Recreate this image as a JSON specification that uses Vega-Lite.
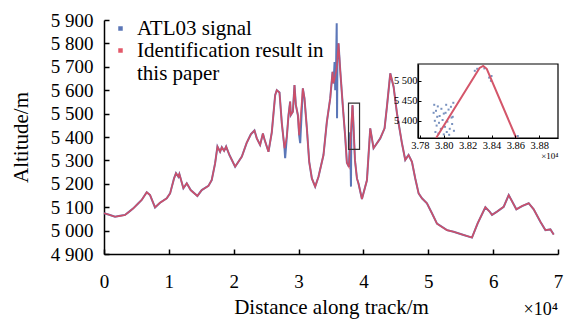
{
  "$schema": "https://vega.github.io/schema/vega-lite/v6.json",
  "width": 454,
  "height": 234,
  "autosize": "none",
  "padding": {"left": 104, "top": 20, "right": 9, "bottom": 66},
  "background": "white",
  "config": {
    "view": {"stroke": null},
    "axis": {"grid": false, "labelFont": "Liberation Serif", "titleFont": "Liberation Serif", "titleFontWeight": "normal", "labelColor": "black", "titleColor": "black", "domainColor": "black", "tickColor": "black", "labelOverlap": false},
    "text": {"font": "Liberation Serif"}
  },
  "datasets": {
    "result": [
      {"d": 0, "alt": 5074}, {"d": 800, "alt": 5068}, {"d": 1700, "alt": 5059}, {"d": 2500, "alt": 5063},
      {"d": 3240, "alt": 5067}, {"d": 3750, "alt": 5078}, {"d": 4520, "alt": 5095}, {"d": 5300, "alt": 5117},
      {"d": 5810, "alt": 5131}, {"d": 6590, "alt": 5164}, {"d": 7100, "alt": 5152}, {"d": 7870, "alt": 5099},
      {"d": 8640, "alt": 5119}, {"d": 9670, "alt": 5138}, {"d": 10190, "alt": 5159}, {"d": 10800, "alt": 5223},
      {"d": 11100, "alt": 5245}, {"d": 11470, "alt": 5230}, {"d": 11620, "alt": 5242}, {"d": 12240, "alt": 5181},
      {"d": 12760, "alt": 5202}, {"d": 13370, "alt": 5173}, {"d": 14400, "alt": 5148}, {"d": 15070, "alt": 5173},
      {"d": 16100, "alt": 5191}, {"d": 16610, "alt": 5216}, {"d": 17130, "alt": 5287}, {"d": 17490, "alt": 5359},
      {"d": 17900, "alt": 5337}, {"d": 18160, "alt": 5356}, {"d": 18520, "alt": 5341}, {"d": 18830, "alt": 5359},
      {"d": 19340, "alt": 5323}, {"d": 20220, "alt": 5273}, {"d": 21250, "alt": 5316}, {"d": 22000, "alt": 5375},
      {"d": 22650, "alt": 5412}, {"d": 23200, "alt": 5428}, {"d": 23560, "alt": 5394}, {"d": 24070, "alt": 5366},
      {"d": 24500, "alt": 5415}, {"d": 24740, "alt": 5390}, {"d": 25360, "alt": 5337}, {"d": 25870, "alt": 5420},
      {"d": 26390, "alt": 5579}, {"d": 26640, "alt": 5600}, {"d": 27060, "alt": 5590}, {"d": 27420, "alt": 5458},
      {"d": 27830, "alt": 5352}, {"d": 28190, "alt": 5401}, {"d": 28450, "alt": 5494}, {"d": 28700, "alt": 5551},
      {"d": 28810, "alt": 5494}, {"d": 29120, "alt": 5508}, {"d": 29370, "alt": 5622}, {"d": 29580, "alt": 5537},
      {"d": 29890, "alt": 5494}, {"d": 30090, "alt": 5408}, {"d": 30660, "alt": 5608}, {"d": 30910, "alt": 5565},
      {"d": 31280, "alt": 5437}, {"d": 31640, "alt": 5294}, {"d": 32050, "alt": 5223}, {"d": 32560, "alt": 5188},
      {"d": 33070, "alt": 5230}, {"d": 33840, "alt": 5323}, {"d": 34360, "alt": 5465}, {"d": 34880, "alt": 5565},
      {"d": 35240, "alt": 5679}, {"d": 35390, "alt": 5629}, {"d": 35650, "alt": 5660}, {"d": 35900, "alt": 5700},
      {"d": 36160, "alt": 5800}, {"d": 36420, "alt": 5686}, {"d": 36830, "alt": 5529}, {"d": 37190, "alt": 5401},
      {"d": 37450, "alt": 5290}, {"d": 37760, "alt": 5273}, {"d": 37936, "alt": 5357}, {"d": 38300, "alt": 5532},
      {"d": 38330, "alt": 5536}, {"d": 38607, "alt": 5357}, {"d": 38700, "alt": 5300}, {"d": 39000, "alt": 5223},
      {"d": 39250, "alt": 5200}, {"d": 39770, "alt": 5135}, {"d": 40540, "alt": 5215}, {"d": 41050, "alt": 5437},
      {"d": 41560, "alt": 5352}, {"d": 42590, "alt": 5394}, {"d": 43260, "alt": 5437}, {"d": 43620, "alt": 5529},
      {"d": 44140, "alt": 5672}, {"d": 44650, "alt": 5615}, {"d": 45170, "alt": 5501}, {"d": 45940, "alt": 5373},
      {"d": 46450, "alt": 5302}, {"d": 46960, "alt": 5323}, {"d": 47480, "alt": 5294}, {"d": 47990, "alt": 5223},
      {"d": 48510, "alt": 5159}, {"d": 49020, "alt": 5138}, {"d": 49790, "alt": 5117}, {"d": 50570, "alt": 5074},
      {"d": 51340, "alt": 5030}, {"d": 52880, "alt": 5002}, {"d": 53900, "alt": 4995}, {"d": 55450, "alt": 4981},
      {"d": 56740, "alt": 4970}, {"d": 57610, "alt": 5031}, {"d": 58800, "alt": 5100}, {"d": 59460, "alt": 5081},
      {"d": 59830, "alt": 5067}, {"d": 60600, "alt": 5081}, {"d": 61630, "alt": 5102}, {"d": 62400, "alt": 5152},
      {"d": 63580, "alt": 5091}, {"d": 64460, "alt": 5105}, {"d": 65480, "alt": 5117}, {"d": 66250, "alt": 5091},
      {"d": 67280, "alt": 5038}, {"d": 68060, "alt": 5002}, {"d": 68830, "alt": 5005}, {"d": 69340, "alt": 4983}
    ],
    "signal": [
      {"d": 0, "alt": 5074}, {"d": 800, "alt": 5068}, {"d": 1700, "alt": 5059}, {"d": 2500, "alt": 5063},
      {"d": 3240, "alt": 5067}, {"d": 3750, "alt": 5078}, {"d": 4520, "alt": 5095}, {"d": 5300, "alt": 5117},
      {"d": 5810, "alt": 5131}, {"d": 6590, "alt": 5164}, {"d": 7100, "alt": 5152}, {"d": 7870, "alt": 5099},
      {"d": 8640, "alt": 5119}, {"d": 9670, "alt": 5138}, {"d": 10190, "alt": 5159}, {"d": 10800, "alt": 5223},
      {"d": 11100, "alt": 5245}, {"d": 11470, "alt": 5230}, {"d": 11620, "alt": 5242}, {"d": 12240, "alt": 5181},
      {"d": 12760, "alt": 5202}, {"d": 13370, "alt": 5173}, {"d": 14400, "alt": 5148}, {"d": 15070, "alt": 5173},
      {"d": 16100, "alt": 5191}, {"d": 16610, "alt": 5216}, {"d": 17130, "alt": 5287}, {"d": 17490, "alt": 5359},
      {"d": 17900, "alt": 5337}, {"d": 18160, "alt": 5356}, {"d": 18520, "alt": 5341}, {"d": 18830, "alt": 5359},
      {"d": 19340, "alt": 5323}, {"d": 20220, "alt": 5273}, {"d": 21250, "alt": 5316}, {"d": 22000, "alt": 5375},
      {"d": 22650, "alt": 5412}, {"d": 23200, "alt": 5428}, {"d": 23560, "alt": 5394}, {"d": 24070, "alt": 5366},
      {"d": 24500, "alt": 5415}, {"d": 24740, "alt": 5390}, {"d": 25360, "alt": 5337}, {"d": 25870, "alt": 5420},
      {"d": 26390, "alt": 5579}, {"d": 26640, "alt": 5600}, {"d": 27060, "alt": 5590}, {"d": 27420, "alt": 5458},
      {"d": 27830, "alt": 5352}, {"d": 27930, "alt": 5309}, {"d": 28190, "alt": 5401}, {"d": 28450, "alt": 5494},
      {"d": 28700, "alt": 5551}, {"d": 28810, "alt": 5494}, {"d": 29120, "alt": 5508}, {"d": 29370, "alt": 5622},
      {"d": 29580, "alt": 5537}, {"d": 29890, "alt": 5494}, {"d": 30090, "alt": 5408}, {"d": 30250, "alt": 5374},
      {"d": 30660, "alt": 5608}, {"d": 30910, "alt": 5565}, {"d": 31280, "alt": 5437}, {"d": 31640, "alt": 5294},
      {"d": 32050, "alt": 5223}, {"d": 32560, "alt": 5188}, {"d": 33070, "alt": 5230}, {"d": 33840, "alt": 5323},
      {"d": 34360, "alt": 5465}, {"d": 34880, "alt": 5565}, {"d": 35240, "alt": 5679}, {"d": 35390, "alt": 5629},
      {"d": 35550, "alt": 5720}, {"d": 35650, "alt": 5600}, {"d": 35780, "alt": 5700}, {"d": 35880, "alt": 5886},
      {"d": 35930, "alt": 5480}, {"d": 36000, "alt": 5760}, {"d": 36160, "alt": 5800}, {"d": 36420, "alt": 5686},
      {"d": 36830, "alt": 5529}, {"d": 37190, "alt": 5401}, {"d": 37450, "alt": 5290}, {"d": 37760, "alt": 5273},
      {"d": 37950, "alt": 5420}, {"d": 38010, "alt": 5300}, {"d": 38080, "alt": 5188}, {"d": 38130, "alt": 5420},
      {"d": 38300, "alt": 5532}, {"d": 38330, "alt": 5536}, {"d": 38607, "alt": 5357}, {"d": 38700, "alt": 5300},
      {"d": 39000, "alt": 5223}, {"d": 39250, "alt": 5200}, {"d": 39770, "alt": 5135}, {"d": 40540, "alt": 5215},
      {"d": 41050, "alt": 5437}, {"d": 41560, "alt": 5352}, {"d": 42590, "alt": 5394}, {"d": 43260, "alt": 5437},
      {"d": 43620, "alt": 5529}, {"d": 44140, "alt": 5672}, {"d": 44650, "alt": 5615}, {"d": 45170, "alt": 5501},
      {"d": 45940, "alt": 5373}, {"d": 46450, "alt": 5302}, {"d": 46960, "alt": 5323}, {"d": 47480, "alt": 5294},
      {"d": 47990, "alt": 5223}, {"d": 48510, "alt": 5159}, {"d": 49020, "alt": 5138}, {"d": 49790, "alt": 5117},
      {"d": 50570, "alt": 5074}, {"d": 51340, "alt": 5030}, {"d": 52880, "alt": 5002}, {"d": 53900, "alt": 4995},
      {"d": 55450, "alt": 4981}, {"d": 56740, "alt": 4970}, {"d": 57610, "alt": 5031}, {"d": 58800, "alt": 5100},
      {"d": 59460, "alt": 5081}, {"d": 59830, "alt": 5067}, {"d": 60600, "alt": 5081}, {"d": 61630, "alt": 5102},
      {"d": 62400, "alt": 5152}, {"d": 63580, "alt": 5091}, {"d": 64460, "alt": 5105}, {"d": 65480, "alt": 5117},
      {"d": 66250, "alt": 5091}, {"d": 67280, "alt": 5038}, {"d": 68060, "alt": 5002}, {"d": 68830, "alt": 5005},
      {"d": 69340, "alt": 4983}
    ],
    "insetSignal": [
      {"d": 37920, "alt": 5440}, {"d": 37935, "alt": 5425}, {"d": 37950, "alt": 5436}, {"d": 37965, "alt": 5412},
      {"d": 37980, "alt": 5430}, {"d": 38000, "alt": 5418}, {"d": 38020, "alt": 5440}, {"d": 38040, "alt": 5428},
      {"d": 38060, "alt": 5435}, {"d": 38075, "alt": 5410}, {"d": 37925, "alt": 5400}, {"d": 37940, "alt": 5388},
      {"d": 37960, "alt": 5395}, {"d": 37990, "alt": 5402}, {"d": 38010, "alt": 5385}, {"d": 38030, "alt": 5398},
      {"d": 38050, "alt": 5380}, {"d": 38070, "alt": 5392}, {"d": 38085, "alt": 5375}, {"d": 37930, "alt": 5372},
      {"d": 37955, "alt": 5368}, {"d": 37975, "alt": 5380}, {"d": 38000, "alt": 5366}, {"d": 38025, "alt": 5372},
      {"d": 38045, "alt": 5365}, {"d": 38065, "alt": 5408}, {"d": 37945, "alt": 5410}, {"d": 38015, "alt": 5420},
      {"d": 38080, "alt": 5445}, {"d": 37915, "alt": 5420}, {"d": 38380, "alt": 5508}, {"d": 38395, "alt": 5500},
      {"d": 38400, "alt": 5512}, {"d": 38280, "alt": 5530}, {"d": 38260, "alt": 5525}, {"d": 38340, "alt": 5531},
      {"d": 38620, "alt": 5362}
    ],
    "insetResult": [
      {"d": 37936, "alt": 5357}, {"d": 38300, "alt": 5532}, {"d": 38330, "alt": 5537}, {"d": 38360, "alt": 5530},
      {"d": 38607, "alt": 5357}
    ]
  },
  "layer": [
    {
      "layer": [
        {
          "data": {"name": "signal"},
          "mark": {"type": "line", "strokeWidth": 2, "opacity": 0.9},
          "encoding": {
            "x": {"field": "d", "type": "quantitative",
              "scale": {"domain": [0, 70000], "nice": false},
              "axis": {"values": [0, 10000, 20000, 30000, 40000, 50000, 60000, 70000], "tickCount": 20,
                "labelExpr": "format(datum.value / 10000, 'd')",
                "labelFontSize": 19, "tickSize": -5, "tickWidth": 1.5, "domainWidth": 1.5,
                "labelPadding": 23, "labelFlush": false, "labelOverlap": false,
                "title": "Distance along track/m", "titleFontSize": 21, "titlePadding": 5}},
            "y": {"field": "alt", "type": "quantitative",
              "scale": {"domain": [4900, 5900], "nice": false, "zero": false},
              "axis": {"values": [4900, 5000, 5100, 5200, 5300, 5400, 5500, 5600, 5700, 5800, 5900], "tickCount": 20,
                "labelExpr": "replace(format(datum.value, ','), ',', ' ')",
                "labelFontSize": 19, "tickSize": -5, "tickWidth": 1.5, "domainWidth": 1.5,
                "labelPadding": 16, "labelFlush": false, "labelOverlap": false,
                "title": "Altitude/m", "titleFontSize": 21, "titlePadding": 19}},
            "color": {"datum": "ATL03 signal", "type": "nominal",
              "scale": {"domain": ["ATL03 signal", "Identification result in this paper"], "range": ["#4a68b0", "#e0485a"]},
              "legend": {"orient": "none", "legendX": 6, "legendY": -2, "title": null,
                "labelFont": "Liberation Serif", "labelFontSize": 21, "labelColor": "black",
                "symbolType": "square", "symbolSize": 4, "symbolStrokeWidth": 2.5,
                "labelOffset": 6, "rowPadding": 0, "padding": 0, "labelLimit": 400,
                "labelExpr": "datum.label == 'Identification result in this paper' ? ['Identification result in', 'this paper'] : datum.label",
                "encode": {"labels": {"update": {"lineHeight": {"value": 20}}}}}}
          }
        },
        {
          "data": {"name": "result"},
          "mark": {"type": "line", "strokeWidth": 1.6, "opacity": 0.85},
          "encoding": {
            "x": {"field": "d", "type": "quantitative"},
            "y": {"field": "alt", "type": "quantitative"},
            "color": {"datum": "Identification result in this paper", "type": "nominal"}
          }
        },
        {
          "data": {"values": [{"x1": 37700, "x2": 39400, "y1": 5347, "y2": 5545}]},
          "mark": {"type": "rect", "fill": "transparent", "stroke": "#333333", "strokeWidth": 1.2},
          "encoding": {
            "x": {"field": "x1", "type": "quantitative"},
            "x2": {"field": "x2"},
            "y": {"field": "y1", "type": "quantitative"},
            "y2": {"field": "y2"}
          }
        },
        {
          "data": {"values": [{"x": 70000, "y": 4900, "label": "×10⁴"}]},
          "mark": {"type": "text", "align": "right", "baseline": "alphabetic", "dy": 61, "fontSize": 18, "color": "black"},
          "encoding": {
            "x": {"field": "x", "type": "quantitative"},
            "y": {"field": "y", "type": "quantitative"},
            "text": {"field": "label"}
          }
        }
      ]
    },
    {
      "layer": [
        {
          "data": {"values": [{"x1": 37784, "x2": 38957, "y1": 5357, "y2": 5542}]},
          "mark": {"type": "rect", "fill": "white", "stroke": "black", "strokeWidth": 1.2},
          "encoding": {
            "x": {"field": "x1", "type": "quantitative",
              "scale": {"domain": [37784, 38957], "range": [314, 454], "nice": false, "zero": false},
              "axis": {"orient": "bottom", "offset": -116, "zindex": 1,
                "values": [37800, 38000, 38200, 38400, 38600, 38800], "tickCount": 20,
                "labelExpr": "format(datum.value / 10000, '.2f')",
                "labelFontSize": 10.5, "tickSize": -3, "tickWidth": 1, "domainWidth": 1.2,
                "labelPadding": 5, "labelFlush": false, "labelOverlap": false,
                "title": "×10⁴", "titleFontSize": 9, "titleAnchor": "end", "titleAlign": "right", "titlePadding": 1}},
            "x2": {"field": "x2"},
            "y": {"field": "y1", "type": "quantitative",
              "scale": {"domain": [5357, 5542], "range": [118, 44], "nice": false, "zero": false},
              "axis": {"orient": "left", "offset": -314, "zindex": 1,
                "values": [5400, 5450, 5500], "tickCount": 20,
                "labelExpr": "replace(format(datum.value, ','), ',', ' ')",
                "labelFontSize": 10.5, "tickSize": -3, "tickWidth": 1, "domainWidth": 1.2,
                "labelPadding": 4, "labelFlush": false, "labelOverlap": false, "title": null}},
            "y2": {"field": "y2"}
          }
        },
        {
          "data": {"name": "insetSignal"},
          "mark": {"type": "square", "size": 4, "color": "#6a86b8", "opacity": 0.9},
          "encoding": {
            "x": {"field": "d", "type": "quantitative"},
            "y": {"field": "alt", "type": "quantitative"}
          }
        },
        {
          "data": {"name": "insetResult"},
          "mark": {"type": "line", "strokeWidth": 2, "color": "#d4566a"},
          "encoding": {
            "x": {"field": "d", "type": "quantitative"},
            "y": {"field": "alt", "type": "quantitative"}
          }
        }
      ]
    }
  ],
  "resolve": {"scale": {"x": "independent", "y": "independent"}, "axis": {"x": "independent", "y": "independent"}}
}
